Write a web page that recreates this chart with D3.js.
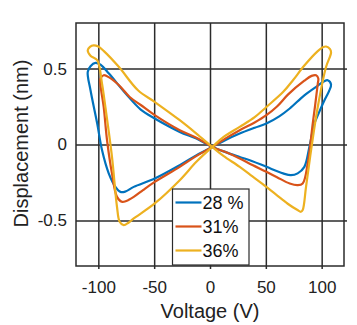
<!DOCTYPE html>
<html>
<head>
<meta charset="utf-8">
<script src="https://cdn.jsdelivr.net/npm/d3@7"></script>
<style>
  body { margin: 0; background: #fff; }
  svg { display: block; font-family: "Liberation Sans", Arial, sans-serif; }
</style>
</head>
<body>
<svg id="chart"></svg>
<script>
// butterfly loops, [voltage V, displacement nm], traced around each loop
const series_names = ['28 %', '31%', '36%'];
const series_colors = ['#0072BD', '#D95319', '#EDB120'];

const loop28 = [
    [2,-0.016],[14,0.03],[26.6,0.072],[40,0.11],[50.5,0.138],[62,0.185],[71.4,0.237],[84.5,0.324],
    [96,0.385],[102,0.415],[105.4,0.423],[108.4,0.395],[106.5,0.35],[102.5,0.291],[97,0.2],[93.5,0.138],
    [89,-0.016],[84.5,-0.147],[78.5,-0.19],[72.5,-0.202],[65.4,-0.19],[50.5,-0.147],[38,-0.11],[26.6,-0.082],
    [14,-0.05],[2,-0.016],[-12.2,0.039],[-27.1,0.083],[-49.5,0.171],[-62,0.23],[-75.5,0.335],[-90.5,0.467],
    [-98,0.525],[-102.6,0.537],[-107,0.515],[-109.5,0.478],[-107,0.357],[-101,0.138],[-96.7,-0.037],
    [-90.7,-0.19],[-84.7,-0.279],[-80.2,-0.312],[-76,-0.31],[-68.3,-0.279],[-49.5,-0.224],[-27.1,-0.136],[-12,-0.07]
];
const loop31 = [
    [2,-0.016],[14,0.04],[26.6,0.094],[40,0.145],[50.5,0.193],[60,0.25],[70,0.33],[84.5,0.42],
    [91,0.452],[95,0.456],[97,0.435],[96.5,0.4],[94,0.25],[92,0.138],[87.5,-0.125],[83,-0.257],
    [78.5,-0.268],[71.4,-0.257],[60,-0.215],[50.5,-0.18],[38,-0.135],[26.6,-0.092],[14,-0.05],
    [2,-0.016],[-12.2,0.045],[-27.1,0.094],[-49.5,0.193],[-62,0.26],[-71.9,0.313],[-81.5,0.39],
    [-90,0.44],[-95.2,0.456],[-98,0.435],[-98.2,0.4],[-95.2,0.247],[-92.2,0.028],[-87.8,-0.19],
    [-83.3,-0.345],[-79,-0.377],[-75,-0.372],[-68.3,-0.345],[-60,-0.3],[-49.5,-0.246],[-27.1,-0.147],[-12,-0.075]
];
const loop36 = [
    [2,-0.016],[12.2,0.05],[26.6,0.116],[40,0.18],[50.5,0.247],[65.4,0.345],[74.3,0.423],[84.5,0.52],
    [96.5,0.615],[101,0.64],[104,0.645],[107.5,0.628],[108.4,0.605],[103.9,0.51],[96.5,0.247],
    [90.5,-0.038],[86,-0.279],[83,-0.432],[81.5,-0.443],[78,-0.43],[69.6,-0.39],[65.4,-0.366],
    [50.5,-0.279],[38,-0.21],[26.6,-0.147],[12,-0.075],[2,-0.016],[-12.2,0.072],[-27.1,0.16],
    [-49.5,0.28],[-64.5,0.357],[-81.5,0.51],[-95,0.615],[-100,0.645],[-104.2,0.653],[-107.5,0.643],
    [-109.5,0.62],[-107,0.585],[-101,0.555],[-96.7,0.4],[-93.7,0.247],[-87.8,-0.08],[-83.3,-0.41],
    [-80.9,-0.509],[-77.3,-0.531],[-73,-0.515],[-68.3,-0.487],[-49.5,-0.388],[-27.1,-0.235],[-12.2,-0.114]
];
const loops = [loop28, loop31, loop36];

const xticks = [-100, -50, 0, 50, 100];
const yticks = [-0.5, 0, 0.5];
const xdomain = [-120, 120];
const ydomain = [-0.8, 0.8];

const width = 357, height = 325;
const margin = {top: 23, right: 13, bottom: 59, left: 76};
const inner_width = width - margin.left - margin.right;
const inner_height = height - margin.top - margin.bottom;

const svg = d3.select('#chart')
    .attr('width', width)
    .attr('height', height);

const chart = svg.append('g')
    .attr('transform', `translate(${margin.left}, ${margin.top})`);

const xscale = d3.scaleLinear().domain(xdomain).range([0, inner_width]);
const yscale = d3.scaleLinear().domain(ydomain).range([inner_height, 0]);

const gridcolor = '#2b2b2b';

// grid + labels
const xaxis_group = chart.append('g')
    .attr('transform', `translate(0, ${inner_height})`)
    .call(d3.axisBottom(xscale).tickValues(xticks).tickSizeInner(-inner_height).tickSizeOuter(0).tickPadding(15)
        .tickFormat(d => d));
const yaxis_group = chart.append('g')
    .call(d3.axisLeft(yscale).tickValues(yticks).tickSizeInner(-inner_width).tickSizeOuter(0).tickPadding(9)
        .tickFormat(d => d));

// small outward stubs
chart.append('g')
    .attr('transform', `translate(0, ${inner_height})`)
    .call(d3.axisBottom(xscale).tickValues(xticks).tickSize(3).tickFormat(''));
chart.append('g')
    .attr('transform', `translate(${inner_width}, 0)`)
    .call(d3.axisRight(yscale).tickValues(yticks).tickSize(3).tickFormat(''));

chart.selectAll('.domain').remove();
chart.selectAll('.tick line')
    .attr('stroke', gridcolor)
    .attr('stroke-width', 1.5);
chart.selectAll('.tick text')
    .attr('fill', '#222')
    .style('font-size', '17px');

chart.append('rect')
    .attr('width', inner_width)
    .attr('height', inner_height)
    .attr('fill', 'none')
    .attr('stroke', gridcolor)
    .attr('stroke-width', 1.5);

const line = d3.line()
    .x(d => xscale(d[0]))
    .y(d => yscale(d[1]))
    .curve(d3.curveCatmullRomClosed.alpha(0.5));

chart.selectAll('path.loop')
    .data(loops)
    .join('path')
    .attr('class', 'loop')
    .attr('d', d => line(d))
    .attr('fill', 'none')
    .attr('stroke', (d, i) => series_colors[i])
    .attr('stroke-width', 2.2)
    .attr('stroke-linejoin', 'round');

// axis titles
svg.append('text')
    .attr('x', margin.left + inner_width / 2)
    .attr('y', 318)
    .attr('text-anchor', 'middle')
    .attr('fill', '#222')
    .style('font-size', '20px')
    .text('Voltage (V)');

svg.append('text')
    .attr('transform', `translate(28, ${margin.top + inner_height / 2 - 1}) rotate(-90)`)
    .attr('text-anchor', 'middle')
    .attr('fill', '#222')
    .style('font-size', '20px')
    .text('Displacement (nm)');

// legend
const legend = svg.append('g')
    .attr('transform', 'translate(172.5, 189)');
legend.append('rect')
    .attr('width', 76.5)
    .attr('height', 76)
    .attr('fill', '#fff')
    .attr('stroke', gridcolor)
    .attr('stroke-width', 1.2);
const rows = legend.selectAll('g.row')
    .data(series_names)
    .join('g')
    .attr('class', 'row')
    .attr('transform', (d, i) => `translate(0, ${13.5 + i * 24})`);
rows.append('line')
    .attr('x1', 3).attr('x2', 29)
    .attr('stroke', (d, i) => series_colors[i])
    .attr('stroke-width', 2.2);
rows.append('text')
    .attr('x', 30)
    .attr('dy', '0.36em')
    .attr('fill', '#111')
    .style('font-size', '18px')
    .text(d => d);
</script>
</body>
</html>
